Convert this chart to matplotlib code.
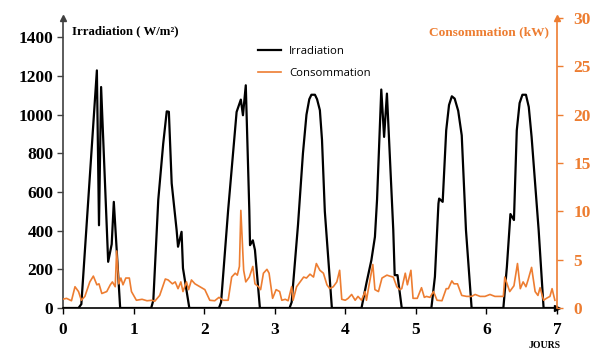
import matplotlib
matplotlib.use("Agg")
import matplotlib.pyplot as plt

# Irradiation (W/m2) vs days
irr_days = [0, 0.22, 0.26, 0.48, 0.51, 0.54, 0.64, 0.69, 0.72, 0.81,
            1.25, 1.28, 1.35, 1.42, 1.47, 1.50, 1.54, 1.61, 1.63, 1.68, 1.70, 1.79,
            2.21, 2.24, 2.34, 2.46, 2.52, 2.55, 2.59, 2.64, 2.65, 2.69, 2.72, 2.79,
            3.21, 3.24, 3.33, 3.40, 3.45, 3.49, 3.52, 3.57, 3.60, 3.64, 3.67, 3.71, 3.81,
            4.23, 4.30, 4.37, 4.42, 4.45, 4.51, 4.55, 4.59, 4.68, 4.70, 4.74, 4.80,
            5.22, 5.27, 5.32, 5.33, 5.38, 5.43, 5.47, 5.51, 5.55, 5.60, 5.65, 5.71, 5.79,
            6.24, 6.29, 6.34, 6.39, 6.43, 6.47, 6.51, 6.56, 6.60, 6.64, 6.74, 6.81, 6.95]
irr_vals = [0, 0, 20, 1229, 428, 1143, 239, 330, 549, 0,
            0, 40, 560, 850, 1017, 1015, 645, 403, 317, 394, 206, 0,
            0, 30, 506, 1014, 1078, 997, 1152, 506, 325, 350, 300, 0,
            0, 30, 430, 800, 1000, 1080, 1103, 1103, 1080, 1023, 870, 500, 0,
            0, 129, 248, 368, 560, 1130, 885, 1109, 403, 170, 170, 0,
            0, 162, 540, 566, 549, 919, 1050, 1095, 1083, 1020, 893, 403, 0,
            0, 214, 486, 455, 919, 1060, 1103, 1103, 1040, 885, 403, 0, 0]

# Consommation (kW) vs days
cons_days = [0.01, 0.05, 0.12, 0.17, 0.22, 0.26, 0.31, 0.38, 0.43, 0.48, 0.51, 0.55, 0.62, 0.67,
             0.70, 0.74, 0.76, 0.79, 0.82, 0.85, 0.89, 0.94, 0.97, 1.04, 1.12, 1.19, 1.26, 1.30,
             1.37, 1.45, 1.49, 1.55, 1.59, 1.63, 1.67, 1.70, 1.75, 1.78, 1.82, 1.87, 1.94, 2.01,
             2.08, 2.15, 2.21, 2.27, 2.34, 2.39, 2.44, 2.47, 2.50, 2.52, 2.56, 2.59, 2.64, 2.69,
             2.72, 2.77, 2.80, 2.84, 2.89, 2.92, 2.97, 3.02, 3.07, 3.10, 3.15, 3.19, 3.24, 3.26,
             3.31, 3.41, 3.45, 3.50, 3.55, 3.59, 3.64, 3.69, 3.74, 3.78, 3.83, 3.88, 3.92, 3.95,
             4.00, 4.04, 4.09, 4.14, 4.18, 4.23, 4.28, 4.30, 4.34, 4.39, 4.42, 4.47, 4.52, 4.59,
             4.63, 4.68, 4.73, 4.77, 4.80, 4.85, 4.88, 4.93, 4.96, 5.02, 5.08, 5.12, 5.15, 5.20,
             5.25, 5.30, 5.37, 5.43, 5.46, 5.51, 5.54, 5.59, 5.65, 5.72, 5.79, 5.84, 5.91, 5.98,
             6.05, 6.12, 6.19, 6.24, 6.26, 6.33, 6.39, 6.44, 6.48, 6.52, 6.56, 6.59, 6.64, 6.69,
             6.73, 6.76, 6.81, 6.85, 6.90, 6.93, 6.97]
cons_vals = [0.93, 1.0, 0.75, 2.2, 1.7, 0.8, 1.2, 2.7, 3.3, 2.4, 2.5, 1.5, 1.7, 2.4,
             2.7, 2.2, 5.9, 2.5, 3.1, 2.4, 3.1, 3.1, 1.7, 0.8, 0.9, 0.75, 0.8, 0.7,
             1.3, 3.0, 2.9, 2.5, 2.7, 2.0, 2.7, 1.7, 2.7, 1.9, 2.9, 2.5, 2.2, 1.9,
             0.8, 0.75, 1.1, 0.8, 0.8, 3.2, 3.6, 3.4, 4.3, 10.1, 3.9, 2.7, 3.2, 4.3,
             2.5, 2.2, 1.9, 3.6, 4.0, 3.6, 1.0, 1.9, 1.7, 0.8, 0.9, 0.75, 2.2, 0.8,
             2.2, 3.2, 3.1, 3.5, 3.2, 4.6, 3.9, 3.6, 2.4, 2.0, 2.2, 2.7, 3.9, 0.9,
             0.8, 1.0, 1.4, 0.8, 1.2, 0.8, 1.7, 0.8, 2.5, 4.5, 1.9, 1.7, 3.1, 3.4,
             3.3, 3.2, 2.2, 1.9, 2.0, 3.6, 2.4, 3.9, 1.0, 1.0, 2.1, 1.1, 1.2, 1.1,
             1.7, 0.8, 0.75, 2.0, 2.0, 2.8, 2.5, 2.5, 1.3, 1.2, 1.2, 1.4, 1.2, 1.2,
             1.4, 1.2, 1.2, 1.2, 3.2, 1.7, 2.3, 4.6, 2.0, 2.7, 2.2, 2.9, 4.2, 1.7,
             1.3, 2.1, 0.8, 1.0, 1.2, 2.0, 0.8]

x_ticks = [0, 1, 2, 3, 4, 5, 6, 7]
left_ticks = [0, 200, 400, 600, 800, 1000, 1200, 1400]
right_ticks = [0, 5, 10, 15, 20, 25, 30]

ORANGE = "#ED7D31"
GRAY = "#404040"
serif = "Liberation Serif"

fig = plt.figure(figsize=(5.94, 3.49), dpi=100)
ax = fig.add_axes([63/594, 1-308/349, (557-63)/594, 290/349])
ax2 = ax.twinx()

l1, = ax.plot(irr_days, irr_vals, color="black", lw=1.6, label="Irradiation", zorder=3)
l2, = ax2.plot(cons_days, cons_vals, color=ORANGE, lw=1.2, label="Consommation")

ax.set_xlim(0, 7)
ax.set_ylim(0, 1500)
ax2.set_ylim(0, 30)

ax.set_xticks(x_ticks)
ax.set_yticks(left_ticks)
ax2.set_yticks(right_ticks)

for s in ["top", "right"]:
    ax.spines[s].set_visible(False)
for s in ["top", "left", "bottom"]:
    ax2.spines[s].set_visible(False)
ax.spines["left"].set_color(GRAY)
ax.spines["left"].set_linewidth(1.2)
ax.spines["bottom"].set_color("black")
ax.spines["bottom"].set_linewidth(1.2)
ax2.spines["right"].set_color(ORANGE)
ax2.spines["right"].set_linewidth(1.2)

ax.tick_params(axis="y", colors="black", length=4, width=1, color=GRAY, direction="out", pad=3)
ax.tick_params(axis="x", length=4, width=1, direction="out", pad=6)
ax2.tick_params(axis="y", colors=ORANGE, length=4, width=1, direction="out", pad=8)

for lab in ax.get_xticklabels() + ax.get_yticklabels():
    lab.set_fontfamily(serif)
    lab.set_fontweight("bold")
    lab.set_fontsize(12.5)
for lab in ax2.get_yticklabels():
    lab.set_fontfamily(serif)
    lab.set_fontweight("bold")
    lab.set_fontsize(12.5)
    lab.set_color(ORANGE)

# arrows on axes
ax.plot(0, 1, "^", color=GRAY, markersize=5, transform=ax.transAxes, clip_on=False)
ax.plot(1, 0, ">", color="black", markersize=5, transform=ax.transAxes, clip_on=False)
ax2.plot(1, 1, "^", color=ORANGE, markersize=5, transform=ax2.transAxes, clip_on=False)

fig.text(72/594, 1-31/349, "Irradiation ( W/m²)", family=serif, weight="bold",
         fontsize=9.2, color="black", va="center", ha="left")
fig.text(549/594, 1-32/349, "Consommation (kW)", family=serif, weight="bold",
         fontsize=9.6, color=ORANGE, va="center", ha="right")
fig.text(545/594, 1-345/349, "JOURS", family=serif, weight="bold",
         fontsize=7, color="black", va="center", ha="center")

leg = ax.legend([l1, l2], ["Irradiation", "Consommation"], loc="upper left",
                bbox_to_anchor=(248/594, 1-36/349), bbox_transform=fig.transFigure,
                frameon=False, prop={"family": "Open Sans", "size": 8.2},
                handlelength=2.0, labelspacing=0.9, handletextpad=0.7)

fig.savefig("out.png", dpi=100)
